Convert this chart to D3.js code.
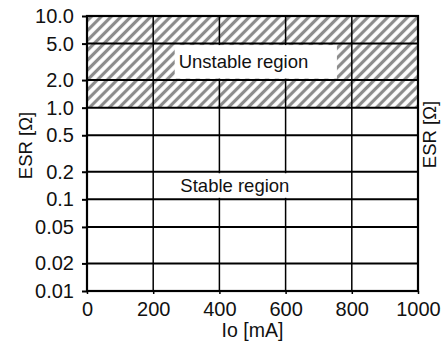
<!DOCTYPE html>
<html>
<head>
<meta charset="utf-8">
<script src="https://cdn.jsdelivr.net/npm/d3@7"></script>
<style>
  body { margin: 0; background: #fff; }
  svg { display: block; font-family: "Liberation Sans", Arial, sans-serif; }
</style>
</head>
<body>
<div id="chart"></div>
<script>
// axis ticks
const xTicks = [0, 200, 400, 600, 800, 1000];
const yTicks = [0.01, 0.02, 0.05, 0.1, 0.2, 0.5, 1, 2, 5, 10];
const yTickLabels = ["0.01", "0.02", "0.05", "0.1", "0.2", "0.5", "1.0", "2.0", "5.0", "10.0"];

// ESR band that is unstable (hatched)
const unstableBand = [1, 10];

// region captions: Io span of the white box, ESR lines it sits between
const regionLabels = ["Unstable region", "Stable region"];
const regionIo = [[265, 755], [270, 640]];
const regionEsr = [[2, 5], [0.1, 0.2]];

function draw() {
    const margin = {top: 16, right: 23, bottom: 52, left: 87},
        width = 441 - margin.left - margin.right,
        height = 343 - margin.top - margin.bottom;

    const root = d3.select("#chart")
        .append("svg")
        .attr("width", 441)
        .attr("height", 343);

    const defs = root.append("defs");
    const pat = defs.append("pattern")
        .attr("id", "hatch")
        .attr("patternUnits", "userSpaceOnUse")
        .attr("width", 7)
        .attr("height", 7)
        .attr("patternTransform", "rotate(45)");
    pat.append("rect").attr("width", 7).attr("height", 7).attr("fill", "#fff");
    pat.append("line")
        .attr("x1", 3.5).attr("y1", 0).attr("x2", 3.5).attr("y2", 7)
        .attr("stroke", "#8c8c8c")
        .attr("stroke-width", 3.2);

    const svg = root.append("g")
        .attr("transform", `translate(${margin.left},${margin.top})`);

    const x = d3.scaleLinear().domain([0, 1000]).range([0, width]);
    const y = d3.scaleLog().domain([0.01, 10]).range([height, 0]);

    // hatched unstable band
    svg.append("rect")
        .attr("x", x(0))
        .attr("width", x(1000) - x(0))
        .attr("y", y(unstableBand[1]))
        .attr("height", y(unstableBand[0]) - y(unstableBand[1]))
        .attr("fill", "url(#hatch)");

    // grid
    svg.append("g")
        .selectAll("line")
        .data(yTicks)
        .join("line")
        .attr("x1", 0).attr("x2", width)
        .attr("y1", d => y(d)).attr("y2", d => y(d))
        .attr("stroke", "#000")
        .attr("stroke-width", 2);
    svg.append("g")
        .selectAll("line")
        .data(xTicks.slice(1, -1))
        .join("line")
        .attr("x1", d => x(d)).attr("x2", d => x(d))
        .attr("y1", 0).attr("y2", height)
        .attr("stroke", "#000")
        .attr("stroke-width", 1.5);

    // region captions on white boxes
    regionLabels.forEach((label, i) => {
        const [a, b] = regionIo[i];
        const [lo, hi] = regionEsr[i];
        svg.append("rect")
            .attr("x", x(a))
            .attr("width", x(b) - x(a))
            .attr("y", y(hi) + 1.5)
            .attr("height", y(lo) - y(hi) - 3)
            .attr("fill", "#fff");
        svg.append("text")
            .attr("x", x(a) + 4)
            .attr("y", y(Math.sqrt(lo * hi)))
            .attr("dy", "0.35em")
            .attr("font-size", 18.5)
            .attr("fill", "#111")
            .text(label);
    });

    // frame
    svg.append("rect")
        .attr("width", width)
        .attr("height", height)
        .attr("fill", "none")
        .attr("stroke", "#000")
        .attr("stroke-width", 2.2);

    const yAxis = svg.append("g")
        .call(d3.axisLeft(y)
            .tickValues(yTicks)
            .tickFormat((d, i) => yTickLabels[i])
            .tickSize(5)
            .tickPadding(8));
    yAxis.select(".domain").remove();
    yAxis.selectAll("line").attr("stroke-width", 2);
    yAxis.selectAll("text").attr("font-size", 20).attr("fill", "#111");

    const xAxis = svg.append("g")
        .attr("transform", `translate(0,${height})`)
        .call(d3.axisBottom(x)
            .tickValues(xTicks)
            .tickFormat(d3.format("d"))
            .tickSize(3)
            .tickPadding(8));
    xAxis.select(".domain").remove();
    xAxis.selectAll("line").attr("stroke-width", 1.5);
    xAxis.selectAll("text").attr("font-size", 20).attr("fill", "#111");

    svg.append("text")
        .attr("text-anchor", "middle")
        .attr("x", width / 2)
        .attr("y", height + 46)
        .attr("font-size", 19.5)
        .attr("fill", "#111")
        .text("Io [mA]");

    svg.append("text")
        .attr("text-anchor", "middle")
        .attr("transform", `translate(-55,${height / 2 - 8})rotate(-90)`)
        .attr("font-size", 18.5)
        .attr("fill", "#111")
        .text("ESR [Ω]");

    svg.append("text")
        .attr("text-anchor", "middle")
        .attr("transform", `translate(${width + 18},${height / 2 - 19})rotate(-90)`)
        .attr("font-size", 18.5)
        .attr("fill", "#111")
        .text("ESR [Ω]");
}

draw();
</script>
</body>
</html>
